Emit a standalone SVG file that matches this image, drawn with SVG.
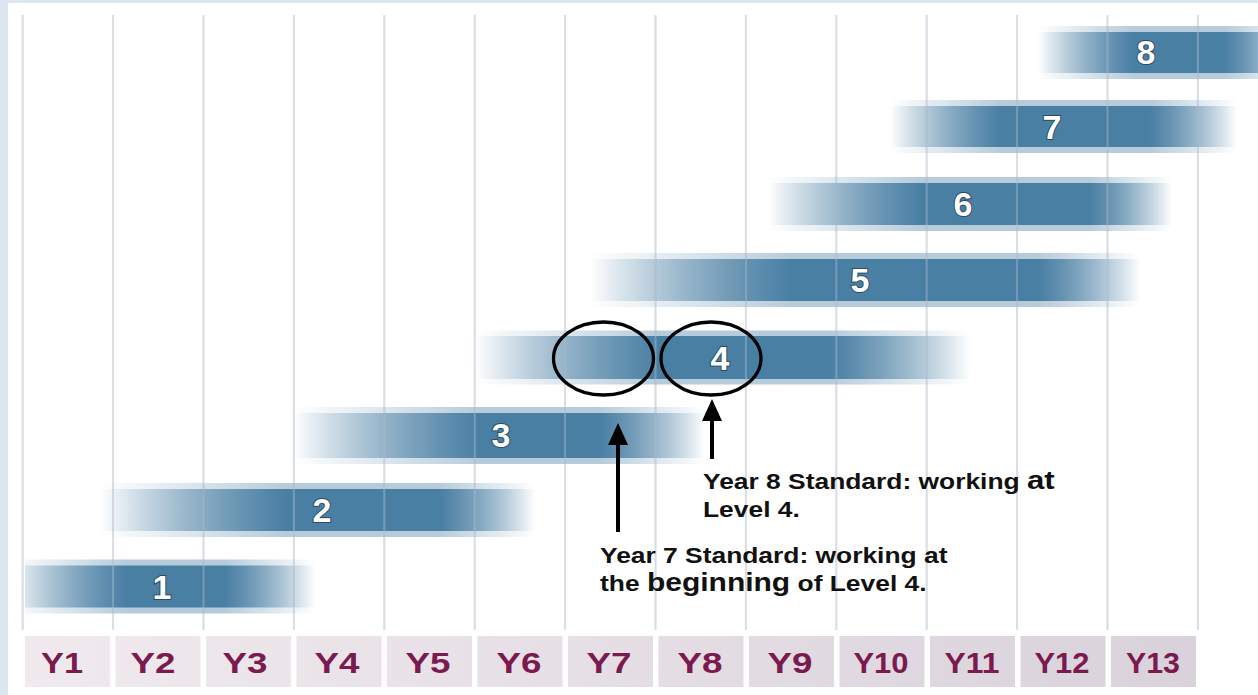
<svg xmlns="http://www.w3.org/2000/svg" width="1258" height="695" viewBox="0 0 1258 695">
<style>
.grid line{stroke:#dadde4;stroke-width:2}
.cell{fill:url(#cellGrad)}
.yl{font-family:"Liberation Sans",Arial,sans-serif;font-weight:bold;font-size:30px;fill:#7b1a4f;text-anchor:middle}
.num{font-family:"Liberation Sans",Arial,sans-serif;font-weight:bold;font-size:34px;fill:#ffffff;text-anchor:middle;stroke:#2c4c63;stroke-width:2;paint-order:stroke fill}
.note{font-family:"Liberation Sans",Arial,sans-serif;font-weight:bold;font-size:22px;fill:#111111}
.ring{fill:none;stroke:#000;stroke-width:3.3}
.arrow{stroke:#000;stroke-width:4;fill:none;marker-end:url(#head)}
.glow{opacity:0.4}
</style>
<defs>
<marker id="head" viewBox="0 0 22 20" refX="0" refY="10" markerWidth="22" markerHeight="20" markerUnits="userSpaceOnUse" orient="auto">
<path d="M0,0 L22,10 L0,20 z" fill="#000"/>
</marker>
<linearGradient id="cellGrad" gradientUnits="userSpaceOnUse" x1="25" y1="0" x2="1196" y2="0">
<stop offset="0" stop-color="#f0eaee"/><stop offset="1" stop-color="#dad2db"/>
</linearGradient>
<linearGradient id="g1" gradientUnits="userSpaceOnUse" x1="25" y1="0" x2="315" y2="0">
<stop offset="0" stop-color="#4a7fa4" stop-opacity="0.15"/><stop offset="0.345" stop-color="#4a7fa4" stop-opacity="1"/><stop offset="0.69" stop-color="#4a7fa4" stop-opacity="1"/><stop offset="1" stop-color="#4a7fa4" stop-opacity="0"/>
</linearGradient>
<linearGradient id="g2" gradientUnits="userSpaceOnUse" x1="100" y1="0" x2="535" y2="0">
<stop offset="0" stop-color="#4a7fa4" stop-opacity="0"/><stop offset="0.425" stop-color="#4a7fa4" stop-opacity="1"/><stop offset="0.782" stop-color="#4a7fa4" stop-opacity="1"/><stop offset="1" stop-color="#4a7fa4" stop-opacity="0"/>
</linearGradient>
<linearGradient id="g3" gradientUnits="userSpaceOnUse" x1="293" y1="0" x2="705" y2="0">
<stop offset="0" stop-color="#4a7fa4" stop-opacity="0"/><stop offset="0.454" stop-color="#4a7fa4" stop-opacity="1"/><stop offset="0.745" stop-color="#4a7fa4" stop-opacity="1"/><stop offset="1" stop-color="#4a7fa4" stop-opacity="0"/>
</linearGradient>
<linearGradient id="g4" gradientUnits="userSpaceOnUse" x1="475" y1="0" x2="970" y2="0">
<stop offset="0" stop-color="#4a7fa4" stop-opacity="0"/><stop offset="0.374" stop-color="#4a7fa4" stop-opacity="1"/><stop offset="0.717" stop-color="#4a7fa4" stop-opacity="1"/><stop offset="1" stop-color="#4a7fa4" stop-opacity="0"/>
</linearGradient>
<linearGradient id="g5" gradientUnits="userSpaceOnUse" x1="590" y1="0" x2="1140" y2="0">
<stop offset="0" stop-color="#4a7fa4" stop-opacity="0"/><stop offset="0.364" stop-color="#4a7fa4" stop-opacity="1"/><stop offset="0.818" stop-color="#4a7fa4" stop-opacity="1"/><stop offset="1" stop-color="#4a7fa4" stop-opacity="0"/>
</linearGradient>
<linearGradient id="g6" gradientUnits="userSpaceOnUse" x1="768" y1="0" x2="1172" y2="0">
<stop offset="0" stop-color="#4a7fa4" stop-opacity="0"/><stop offset="0.376" stop-color="#4a7fa4" stop-opacity="1"/><stop offset="0.797" stop-color="#4a7fa4" stop-opacity="1"/><stop offset="1" stop-color="#4a7fa4" stop-opacity="0"/>
</linearGradient>
<linearGradient id="g7" gradientUnits="userSpaceOnUse" x1="890" y1="0" x2="1237" y2="0">
<stop offset="0" stop-color="#4a7fa4" stop-opacity="0"/><stop offset="0.317" stop-color="#4a7fa4" stop-opacity="1"/><stop offset="0.749" stop-color="#4a7fa4" stop-opacity="1"/><stop offset="1" stop-color="#4a7fa4" stop-opacity="0"/>
</linearGradient>
<linearGradient id="g8" gradientUnits="userSpaceOnUse" x1="1038" y1="0" x2="1258" y2="0">
<stop offset="0" stop-color="#4a7fa4" stop-opacity="0"/><stop offset="0.432" stop-color="#4a7fa4" stop-opacity="1"/><stop offset="0.85" stop-color="#4a7fa4" stop-opacity="1"/><stop offset="1" stop-color="#4a7fa4" stop-opacity="0.55"/>
</linearGradient>
</defs>

<rect x="0" y="0" width="1258" height="695" fill="#dde7f1"/>
<rect x="8" y="3" width="1250" height="692" fill="#ffffff"/>

<g class="grid" id="grid">
<line x1="22.7" y1="15" x2="22.7" y2="630"/><line x1="113.1" y1="15" x2="113.1" y2="630"/><line x1="203.5" y1="15" x2="203.5" y2="630"/><line x1="293.9" y1="15" x2="293.9" y2="630"/><line x1="384.3" y1="15" x2="384.3" y2="630"/><line x1="474.7" y1="15" x2="474.7" y2="630"/><line x1="565.1" y1="15" x2="565.1" y2="630"/><line x1="655.5" y1="15" x2="655.5" y2="630"/><line x1="745.9" y1="15" x2="745.9" y2="630"/><line x1="836.3" y1="15" x2="836.3" y2="630"/><line x1="926.7" y1="15" x2="926.7" y2="630"/><line x1="1017.1" y1="15" x2="1017.1" y2="630"/><line x1="1107.5" y1="15" x2="1107.5" y2="630"/><line x1="1197.9" y1="15" x2="1197.9" y2="630"/>
</g>

<g id="bar1"><rect class="glow" x="25" y="559.5" width="290" height="54" fill="url(#g1)"/><rect x="25" y="565.5" width="290" height="42" fill="url(#g1)"/><text class="num" x="162" y="598.5">1</text></g>
<g id="bar2"><rect class="glow" x="100" y="483" width="435" height="54" fill="url(#g2)"/><rect x="100" y="489" width="435" height="42" fill="url(#g2)"/><text class="num" x="322" y="522">2</text></g>
<g id="bar3"><rect class="glow" x="293" y="407" width="412" height="57" fill="url(#g3)"/><rect x="293" y="413" width="412" height="45" fill="url(#g3)"/><text class="num" x="501" y="447">3</text></g>
<g id="bar4"><rect class="glow" x="475" y="330.5" width="495" height="54" fill="url(#g4)"/><rect x="475" y="336" width="495" height="43" fill="url(#g4)"/><text class="num" x="720" y="369.5">4</text></g>
<g id="bar5"><rect class="glow" x="590" y="253" width="550" height="54" fill="url(#g5)"/><rect x="590" y="259" width="550" height="42" fill="url(#g5)"/><text class="num" x="860" y="292">5</text></g>
<g id="bar6"><rect class="glow" x="768" y="177" width="404" height="54" fill="url(#g6)"/><rect x="768" y="183" width="404" height="42" fill="url(#g6)"/><text class="num" x="963" y="216">6</text></g>
<g id="bar7"><rect class="glow" x="890" y="100" width="347" height="53" fill="url(#g7)"/><rect x="890" y="106" width="347" height="41" fill="url(#g7)"/><text class="num" x="1052" y="139">7</text></g>
<g id="bar8"><rect class="glow" x="1038" y="26" width="220" height="53" fill="url(#g8)"/><rect x="1038" y="32" width="220" height="41" fill="url(#g8)"/><text class="num" x="1146" y="64">8</text></g>

<g class="grid" opacity="0.3">
<line x1="22.7" y1="15" x2="22.7" y2="630"/><line x1="113.1" y1="15" x2="113.1" y2="630"/><line x1="203.5" y1="15" x2="203.5" y2="630"/><line x1="293.9" y1="15" x2="293.9" y2="630"/><line x1="384.3" y1="15" x2="384.3" y2="630"/><line x1="474.7" y1="15" x2="474.7" y2="630"/><line x1="565.1" y1="15" x2="565.1" y2="630"/><line x1="655.5" y1="15" x2="655.5" y2="630"/><line x1="745.9" y1="15" x2="745.9" y2="630"/><line x1="836.3" y1="15" x2="836.3" y2="630"/><line x1="926.7" y1="15" x2="926.7" y2="630"/><line x1="1017.1" y1="15" x2="1017.1" y2="630"/><line x1="1107.5" y1="15" x2="1107.5" y2="630"/><line x1="1197.9" y1="15" x2="1197.9" y2="630"/>
</g>

<g id="years">
<g id="y1"><rect class="cell" x="25" y="636" width="85" height="51"/><text class="yl" x="62" y="673" textLength="42" lengthAdjust="spacingAndGlyphs">Y1</text></g>
<g id="y2"><rect class="cell" x="115.5" y="636" width="85" height="51"/><text class="yl" x="153" y="673" textLength="45" lengthAdjust="spacingAndGlyphs">Y2</text></g>
<g id="y3"><rect class="cell" x="206" y="636" width="85" height="51"/><text class="yl" x="245" y="673" textLength="45" lengthAdjust="spacingAndGlyphs">Y3</text></g>
<g id="y4"><rect class="cell" x="296.5" y="636" width="85" height="51"/><text class="yl" x="337" y="673" textLength="45" lengthAdjust="spacingAndGlyphs">Y4</text></g>
<g id="y5"><rect class="cell" x="387" y="636" width="85" height="51"/><text class="yl" x="428" y="673" textLength="45" lengthAdjust="spacingAndGlyphs">Y5</text></g>
<g id="y6"><rect class="cell" x="477.5" y="636" width="85" height="51"/><text class="yl" x="519" y="673" textLength="45" lengthAdjust="spacingAndGlyphs">Y6</text></g>
<g id="y7"><rect class="cell" x="568" y="636" width="85" height="51"/><text class="yl" x="609" y="673" textLength="45" lengthAdjust="spacingAndGlyphs">Y7</text></g>
<g id="y8"><rect class="cell" x="658.5" y="636" width="85" height="51"/><text class="yl" x="700" y="673" textLength="45" lengthAdjust="spacingAndGlyphs">Y8</text></g>
<g id="y9"><rect class="cell" x="749" y="636" width="85" height="51"/><text class="yl" x="790" y="673" textLength="45" lengthAdjust="spacingAndGlyphs">Y9</text></g>
<g id="y10"><rect class="cell" x="839.5" y="636" width="85" height="51"/><text class="yl" x="881" y="673" textLength="55" lengthAdjust="spacingAndGlyphs">Y10</text></g>
<g id="y11"><rect class="cell" x="930" y="636" width="85" height="51"/><text class="yl" x="972" y="673" textLength="55" lengthAdjust="spacingAndGlyphs">Y11</text></g>
<g id="y12"><rect class="cell" x="1020.5" y="636" width="85" height="51"/><text class="yl" x="1062" y="673" textLength="55" lengthAdjust="spacingAndGlyphs">Y12</text></g>
<g id="y13"><rect class="cell" x="1111" y="636" width="85" height="51"/><text class="yl" x="1153" y="673" textLength="54" lengthAdjust="spacingAndGlyphs">Y13</text></g>
</g>

<g id="rings">
<ellipse class="ring" cx="603.5" cy="358.5" rx="50" ry="36.5"/>
<ellipse class="ring" cx="711" cy="358.5" rx="50" ry="36.5"/>
</g>

<g id="connectors">
<line class="arrow" x1="618" y1="532" x2="618" y2="445"/>
<line class="arrow" x1="712" y1="459" x2="712" y2="421"/>
</g>

<g id="note8">
<text class="note" transform="translate(703,489) scale(1.2,1)">Year 8 Standard: working <tspan font-size="26">at</tspan></text>
<text class="note" transform="translate(703,517) scale(1.2,1)">Level 4.</text>
</g>
<g id="note7">
<text class="note" transform="translate(600,563) scale(1.2,1)">Year 7 Standard: working at</text>
<text class="note" transform="translate(600,591) scale(1.2,1)">the <tspan font-size="25">beginning</tspan> of Level 4.</text>
</g>
</svg>
